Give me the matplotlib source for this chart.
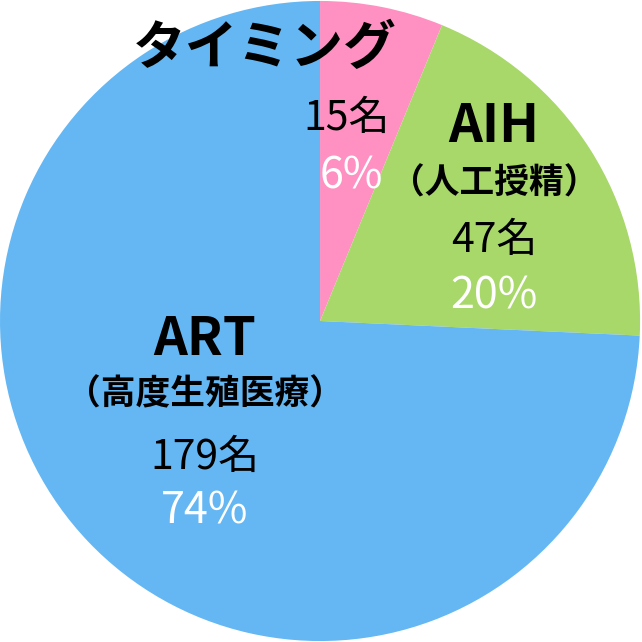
import matplotlib.pyplot as plt

plt.rcParams['font.family'] = ['Noto Sans CJK JP', 'DejaVu Sans']

# data
titles = ['タイミング', 'AIH', 'ART']
subtitles = ['', '（人工授精）', '（高度生殖医療）']
counts = [15, 47, 179]
percents = ['6%', '20%', '74%']
colors = ['#FF91C2', '#A8D76A', '#64B7F3']

fig = plt.figure(figsize=(6.42, 6.42), dpi=100)
ax = fig.add_axes([0, 0, 1, 1])
ax.pie(counts, colors=colors, startangle=90, counterclock=False, radius=1.0,
       wedgeprops={'linewidth': 0})
ax.set_xlim(-1.0, 1.006)
ax.set_ylim(-1.003, 1.003)
ax.set_aspect('equal')
ax.axis('off')

# label positions in pixels (x, y from top) for each slice
title_pos = [(265, 48), (494, 126), (205, 339)]
sub_pos = [None, (494, 183), (205, 394)]
count_pos = [(347, 118), (494, 240), (205, 457)]
pct_pos = [(351, 176), (494, 296), (205, 512)]


def tx(p):
    return p[0] / 642, 1 - p[1] / 642


for i in range(len(counts)):
    ax.text(*tx(title_pos[i]), titles[i], transform=ax.transAxes, ha='center', va='center',
            fontsize=38, fontweight='bold', color='black')
    if sub_pos[i] is not None:
        ax.text(*tx(sub_pos[i]), subtitles[i], transform=ax.transAxes, ha='center', va='center',
                fontsize=25, fontweight='bold', color='black')
    ax.text(*tx(count_pos[i]), f'{counts[i]}名', transform=ax.transAxes, ha='center', va='center',
            fontsize=29.5, color='black')
    ax.text(*tx(pct_pos[i]), percents[i], transform=ax.transAxes, ha='center', va='center',
            fontsize=31, color='white')

fig.savefig('out.png', dpi=100)
